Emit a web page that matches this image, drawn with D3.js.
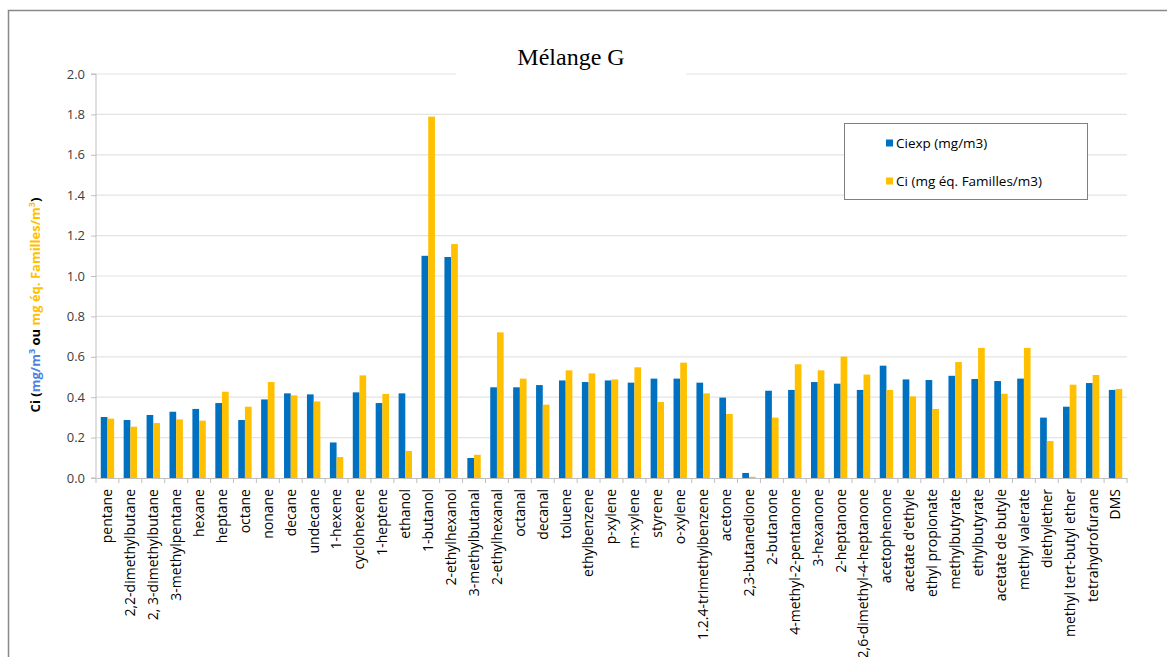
<!DOCTYPE html>
<html>

<head>
  <meta charset="utf-8" />
  <title>Mélange G</title>
  <style>
    body {
      margin: 0;
      background: #fff;
    }

    svg text {
      font-family: "Open Sans", "Liberation Sans", sans-serif;
    }
  </style>
  <script src="https://cdnjs.cloudflare.com/ajax/libs/d3/7.8.5/d3.min.js"></script>
</head>

<body>
  <div id="chartArea"></div>
  <script>
    var categories = ['pentane', '2,2-dimethylbutane', '2, 3-dimethylbutane', '3-methylpentane', 'hexane',
      'heptane', 'octane', 'nonane', 'decane', 'undecane', '1-hexene', 'cyclohexene', '1-heptene', 'ethanol',
      '1-butanol', '2-ethylhexanol', '3-methylbutanal', '2-ethylhexanal', 'octanal', 'decanal', 'toluene',
      'ethylbenzene', 'p-xylene', 'm-xylene', 'styrene', 'o-xylene', '1.2.4-trimethylbenzene', 'acetone',
      '2,3-butanedione', '2-butanone', '4-methyl-2-pentanone', '3-hexanone', '2-heptanone',
      '2,6-dimethyl-4-heptanone', 'acetophenone', "acetate d'ethyle", 'ethyl propionate', 'methylbutyrate',
      'ethylbutyrate', 'acetate de butyle', 'methyl valerate', 'diethylether', 'methyl tert-butyl ether',
      'tetrahydrofurane', 'DMS'];

    var ciexp = [0.302, 0.287, 0.312, 0.328, 0.342, 0.371, 0.287, 0.389, 0.419, 0.414, 0.176, 0.424, 0.371, 0.419,
      1.100, 1.094, 0.099, 0.449, 0.449, 0.460, 0.483, 0.475, 0.483, 0.472, 0.492, 0.492, 0.472, 0.398,
      0.025, 0.432, 0.436, 0.475, 0.467, 0.436, 0.556, 0.488, 0.485, 0.506, 0.490, 0.480, 0.492, 0.299,
      0.353, 0.470, 0.436];

    var ciFam = [0.294, 0.254, 0.272, 0.290, 0.284, 0.427, 0.353, 0.475, 0.409, 0.379, 0.104, 0.508, 0.416, 0.134,
      1.789, 1.158, 0.115, 0.721, 0.492, 0.363, 0.533, 0.518, 0.488, 0.548, 0.376, 0.571, 0.419, 0.317,
      0.006, 0.299, 0.563, 0.533, 0.601, 0.512, 0.436, 0.404, 0.342, 0.574, 0.644, 0.417, 0.644, 0.183,
      0.462, 0.510, 0.441];

    var yTicks = [0, 0.2, 0.4, 0.6, 0.8, 1.0, 1.2, 1.4, 1.6, 1.8, 2.0];

    var series = [
      { name: 'Ciexp (mg/m3)', values: ciexp, color: '#0070C0' },
      { name: 'Ci (mg éq. Familles/m3)', values: ciFam, color: '#FFC000' }
    ];

    var W = 1167, H = 657;
    var margin = { top: 74, left: 96, right: 40, bottom: 179 };
    var w = 1127 - margin.left,
      h = 478 - margin.top;

    var svg = d3.select('#chartArea').append('svg')
      .attr('width', W)
      .attr('height', H);

    // outer frame (runs off the right and bottom)
    svg.append('rect')
      .attr('x', 8.5).attr('y', 10.5)
      .attr('width', W + 20).attr('height', H + 20)
      .attr('fill', 'none')
      .attr('stroke', '#888')
      .attr('stroke-width', 1.5);

    var g = svg.append('g')
      .attr('transform', 'translate(' + margin.left + ',' + margin.top + ')');

    var xScale = d3.scaleBand()
      .domain(categories)
      .range([0, w])
      .paddingInner(0.415)
      .paddingOuter(0.2075);

    var xSub = d3.scaleBand()
      .domain([0, 1])
      .range([0, xScale.bandwidth()]);

    var yScale = d3.scaleLinear()
      .domain([0, 2])
      .range([h, 0]);

    // grid
    g.selectAll('.grid')
      .data(yTicks.slice(1))
      .enter()
      .append('line')
      .attr('class', 'grid')
      .attr('x1', 0).attr('x2', w)
      .attr('y1', d => yScale(d)).attr('y2', d => yScale(d))
      .attr('stroke', '#e3e3e3')
      .attr('stroke-width', 1.2);

    // bars
    series.forEach(function (s, i) {
      g.selectAll('.bar' + i)
        .data(s.values)
        .enter()
        .append('rect')
        .attr('class', 'bar' + i)
        .attr('x', (d, j) => xScale(categories[j]) + xSub(i))
        .attr('y', d => yScale(d))
        .attr('width', xSub.bandwidth())
        .attr('height', d => h - yScale(d))
        .attr('fill', s.color);
    });

    // y axis
    var yAxis = g.append('g')
      .call(d3.axisLeft(yScale).tickValues(yTicks).tickFormat(d3.format('.1f')).tickSize(5).tickPadding(6));
    yAxis.select('.domain').attr('stroke', '#bfbfbf').attr('d', 'M-5,0H0V' + h + 'H-5');
    yAxis.selectAll('.tick line').attr('stroke', '#bfbfbf');
    yAxis.selectAll('.tick text')
      .attr('fill', '#404040')
      .style('font-size', '13px');

    // x axis with ticks between categories
    var xAxis = g.append('g')
      .attr('transform', 'translate(0,' + h + ')')
      .call(d3.axisBottom(xScale).tickSize(0).tickPadding(0));
    xAxis.select('.domain').attr('stroke', '#bfbfbf');
    var step = xScale.step();
    xAxis.selectAll('.sep')
      .data(d3.range(categories.length + 1))
      .enter()
      .append('line')
      .attr('class', 'sep')
      .attr('x1', d => d * step).attr('x2', d => d * step)
      .attr('y1', 0).attr('y2', 5)
      .attr('stroke', '#bfbfbf');
    xAxis.selectAll('.tick text')
      .attr('transform', 'rotate(-90)')
      .attr('x', -11)
      .attr('y', 0)
      .attr('dy', '0.35em')
      .attr('text-anchor', 'end')
      .attr('fill', '#000')
      .style('font-size', '14px');

    // title with white background hiding the top grid line
    svg.append('rect')
      .attr('x', 456).attr('y', 38)
      .attr('width', 230).attr('height', 40)
      .attr('fill', '#fff');
    svg.append('text')
      .attr('x', 571).attr('y', 65)
      .attr('text-anchor', 'middle')
      .style('font-family', '"Liberation Serif", "DejaVu Serif", serif')
      .style('font-size', '24px')
      .text('Mélange G');

    // y axis title
    var yt = svg.append('text')
      .attr('transform', 'translate(40,305) rotate(-90)')
      .attr('text-anchor', 'middle')
      .style('font-size', '13px')
      .style('font-weight', 'bold');
    yt.append('tspan').attr('fill', '#000').text('Ci (');
    yt.append('tspan').attr('fill', '#4F81E0').text('mg/m');
    yt.append('tspan').attr('fill', '#4F81E0').attr('dy', -5).style('font-size', '9px').text('3');
    yt.append('tspan').attr('fill', '#000').attr('dy', 5).text(' ou ');
    yt.append('tspan').attr('fill', '#FFC000').text('mg éq. Familles/m');
    yt.append('tspan').attr('fill', '#FFC000').attr('dy', -5).style('font-size', '9px').text('3');
    yt.append('tspan').attr('fill', '#000').attr('dy', 5).text(')');

    // legend
    var lg = svg.append('g').attr('transform', 'translate(844,123)');
    lg.append('rect')
      .attr('x', 0.5).attr('y', 0.5)
      .attr('width', 243).attr('height', 76)
      .attr('fill', '#fff')
      .attr('stroke', '#808080');
    series.forEach(function (s, i) {
      var row = lg.append('g').attr('transform', 'translate(42,' + (20 + i * 38) + ')');
      row.append('rect')
        .attr('x', 0).attr('y', -3.5)
        .attr('width', 7).attr('height', 7)
        .attr('fill', s.color);
      row.append('text')
        .attr('x', 10).attr('y', 0)
        .attr('dy', '0.35em')
        .style('font-size', '13.5px')
        .attr('fill', '#000')
        .text(s.name);
    });
  </script>
</body>

</html>
